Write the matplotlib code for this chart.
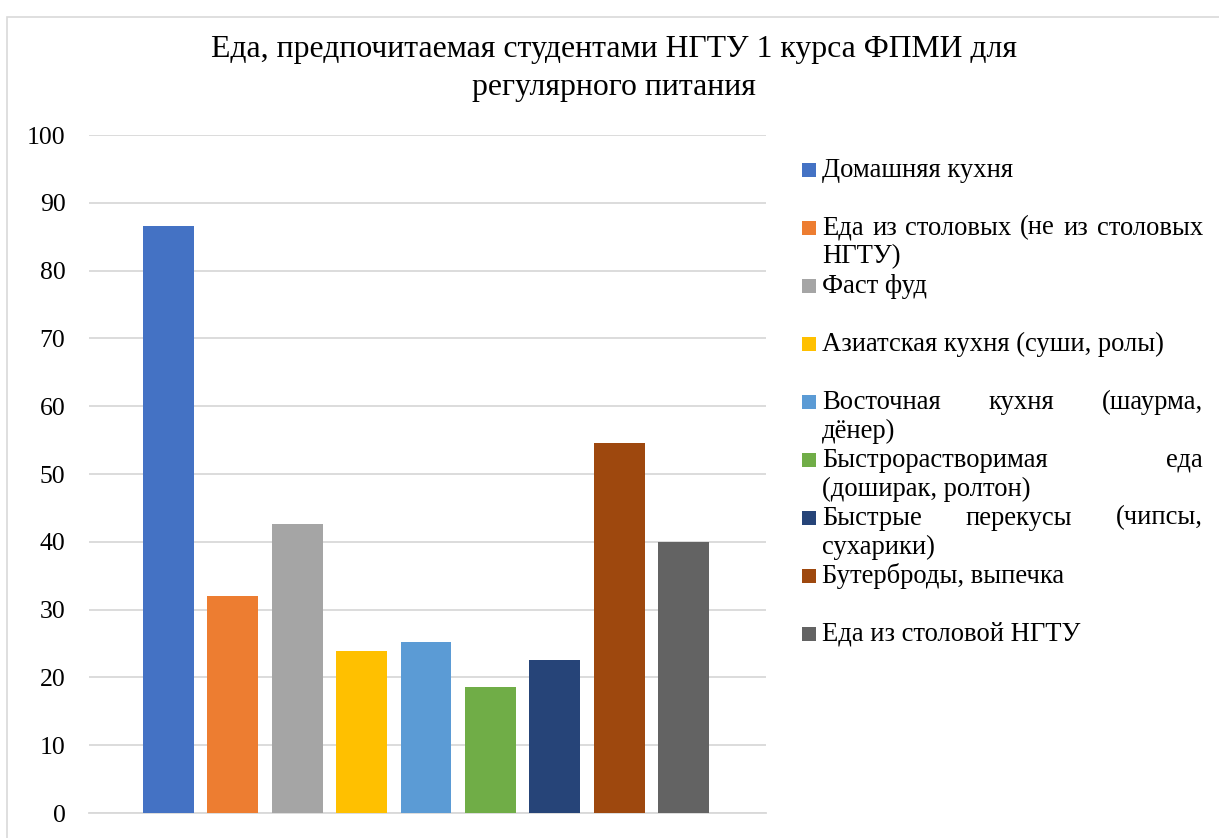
import matplotlib.pyplot as plt
from matplotlib.patches import Rectangle
from matplotlib.transforms import IdentityTransform

plt.rcParams['font.family'] = ['Liberation Serif', 'DejaVu Serif']

# данные
categories = [
    'Домашняя кухня',
    'Еда из столовых (не из столовых НГТУ)',
    'Фаст фуд',
    'Азиатская кухня (суши, ролы)',
    'Восточная кухня (шаурма, дёнер)',
    'Быстрорастворимая еда (доширак, ролтон)',
    'Быстрые перекусы (чипсы, сухарики)',
    'Бутерброды, выпечка',
    'Еда из столовой НГТУ',
]
values = [86.6, 32.0, 42.6, 23.9, 25.2, 18.6, 22.6, 54.6, 40.0]
colors = ['#4472C4', '#ED7D31', '#A5A5A5', '#FFC000', '#5B9BD5',
          '#70AD47', '#264478', '#9E480E', '#636363']
# переносы строк в легенде (как в исходнике)
legend_lines = [
    ['Домашняя кухня'],
    ['Еда из столовых (не из столовых', 'НГТУ)'],
    ['Фаст фуд'],
    ['Азиатская кухня (суши, ролы)'],
    ['Восточная кухня (шаурма,', 'дёнер)'],
    ['Быстрорастворимая еда', '(доширак, ролтон)'],
    ['Быстрые перекусы (чипсы,', 'сухарики)'],
    ['Бутерброды, выпечка'],
    ['Еда из столовой НГТУ'],
]
yticks = list(range(0, 101, 10))

W, H = 1219, 838
fig = plt.figure(figsize=(W / 100, H / 100), dpi=100)
fig.patch.set_facecolor('white')

# рамка диаграммы
fig.patches.append(Rectangle((7 / W, -0.1), 1.2, (H - 17) / H + 0.1, transform=fig.transFigure,
                             fill=False, ec='#d9d9d9', lw=1.2))

ax = fig.add_axes([89 / W, (H - 813) / H, (766 - 89) / W, (813 - 135) / H])
x = list(range(len(values)))
ax.bar(x, values, width=0.79, color=colors, zorder=3)
ax.set_xlim(-1.234, 9.28)
ax.set_ylim(0, 100)
ax.set_yticks(yticks)
ax.set_yticklabels([str(v) for v in yticks], fontsize=18.5)
ax.tick_params(axis='y', length=0, pad=17)
ax.set_xticks([])
ax.grid(axis='y', color='#d9d9d9', lw=1.3, zorder=0)
for s in ['top', 'right', 'left']:
    ax.spines[s].set_visible(False)
ax.spines['bottom'].set_color('#d9d9d9')
ax.spines['bottom'].set_linewidth(1.3)

fig.text(614 / W, 1 - 49 / H, 'Еда, предпочитаемая студентами НГТУ 1 курса ФПМИ для',
         ha='center', va='center', fontsize=22.9)
fig.text(614 / W, 1 - 87 / H, 'регулярного питания', ha='center', va='center', fontsize=22.9)

# легенда с выравниванием по ширине
renderer = fig.canvas.get_renderer()
xl, xr = 822, 1203
fs = 19.2


def put_line(text, y, justify):
    if not justify:
        fig.text(xl, H - y, text, transform=IdentityTransform(), fontsize=fs, va='center')
        return
    words = text.split(' ')
    objs = [fig.text(0, H - y, w, transform=IdentityTransform(), fontsize=fs, va='center')
            for w in words]
    widths = [o.get_window_extent(renderer).width for o in objs]
    gap = (xr - xl - sum(widths)) / (len(words) - 1)
    pos = xl
    for o, w in zip(objs, widths):
        o.set_x(pos)
        pos += w + gap


y0 = 170
for i, (lines, c) in enumerate(zip(legend_lines, colors)):
    y = y0 + i * 58
    fig.patches.append(Rectangle((802, H - y - 7), 14, 14, transform=IdentityTransform(),
                                 fc=c, ec='none'))
    for j, ln in enumerate(lines):
        put_line(ln, y + j * 29, j < len(lines) - 1)

fig.savefig('out.png', dpi=100)
